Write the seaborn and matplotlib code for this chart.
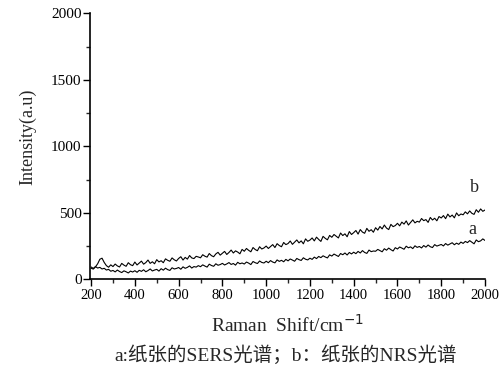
import numpy as np
import pandas as pd
import matplotlib
matplotlib.use('Agg')
import matplotlib.pyplot as plt
from matplotlib.ticker import MultipleLocator
import seaborn as sns

# Raman shift, 200..2000 step 10
shift = np.arange(200, 2001, 10)

# a: SERS spectrum of paper (lower curve)
sers = [
    94, 83, 97, 86, 91, 79, 84, 71, 76, 62,
    68, 57, 71, 60, 52, 65, 58, 49, 63, 56,
    66, 54, 69, 61, 73, 58, 67, 79, 64, 71,
    76, 63, 81, 70, 85, 74, 68, 88, 79, 83,
    90, 77, 95, 84, 91, 102, 86, 97, 93, 104,
    96, 110, 101, 93, 115, 105, 99, 118, 107, 112,
    121, 109, 117, 127, 113, 120, 108, 129, 118, 124,
    116, 131, 123, 112, 135, 126, 120, 139, 128, 124,
    137, 126, 142, 131, 125, 147, 136, 144, 133, 151,
    140, 154, 146, 137, 158, 149, 143, 163, 152, 147,
    160, 151, 168, 157, 173, 164, 178, 169, 162, 185,
    176, 191, 182, 173, 195, 186, 199, 184, 203, 192,
    205, 194, 211, 199, 217, 203, 196, 221, 209, 214,
    212, 226, 217, 208, 231, 220, 236, 224, 214, 239,
    229, 244, 236, 227, 250, 238, 245, 232, 253, 241,
    248, 237, 255, 243, 259, 246, 240, 262, 251, 257,
    263, 252, 270, 258, 267, 276, 261, 273, 264, 281,
    271, 286, 277, 292, 280, 268, 297, 284, 290, 305,
    293,
]

# b: NRS spectrum of paper (upper curve)
nrs = [
    85, 78, 95, 118, 152, 160, 128, 104, 92, 110,
    97, 116, 102, 94, 121, 108, 99, 126, 111, 104,
    131, 109, 124, 138, 115, 127, 146, 121, 133, 118,
    149, 132, 141, 126, 155, 144, 137, 162, 148, 139,
    158, 171, 146, 166, 153, 180, 162, 157, 174, 169,
    163, 186, 175, 168, 195, 179, 171, 192, 204, 183,
    197, 211, 188, 203, 221, 199, 215, 206, 193, 226,
    212, 233, 219, 208, 240, 225, 216, 246, 229, 237,
    251, 233, 247, 262, 240, 269, 255, 246, 278, 262,
    270, 289, 264, 281, 297, 275, 290, 268, 305, 287,
    296, 312, 290, 318, 301, 286, 324, 309, 298, 331,
    317, 338, 325, 312, 349, 330, 343, 321, 360, 338,
    352, 368, 341, 375, 356, 347, 384, 362, 374, 355,
    389, 371, 398, 380, 409, 386, 375, 414, 397, 405,
    422, 403, 431, 416, 440, 409, 428, 448, 425, 437,
    431, 458, 442, 450, 429, 466, 447, 460, 441, 473,
    462, 480, 457, 491, 470, 484, 463, 500, 479, 492,
    486, 508, 493, 515, 497, 489, 524, 505, 530, 512,
    522,
]

df = pd.DataFrame({
    'shift': np.concatenate([shift, shift]),
    'intensity': sers + nrs,
    'curve': ['a'] * len(shift) + ['b'] * len(shift),
})

sns.set_style('ticks')
plt.rcParams['font.family'] = ['Liberation Serif', 'Noto Sans CJK SC', 'DejaVu Sans']
plt.rcParams['font.size'] = 11

fig = plt.figure(figsize=(5, 3.75), dpi=100)
ax = fig.add_axes([0.18, 0.2547, 0.79, 0.71])

sns.lineplot(data=df, x='shift', y='intensity', hue='curve', units='curve',
             estimator=None, palette=['black', 'black'], linewidth=0.8,
             legend=False, ax=ax)

ax.set_xlim(195, 2000)
ax.set_ylim(0, 2000)
ax.xaxis.set_major_locator(MultipleLocator(200))
ax.xaxis.set_minor_locator(MultipleLocator(100))
ax.yaxis.set_major_locator(MultipleLocator(500))
ax.yaxis.set_minor_locator(MultipleLocator(250))
ax.tick_params(which='major', length=5, width=1, direction='out', pad=2, colors='black')
ax.tick_params(which='minor', length=3, width=1, direction='out')
ax.tick_params(axis='x', labelsize=10.5)
ax.tick_params(axis='y', labelsize=11, pad=1)
sns.despine(ax=ax)
for s in ['left', 'bottom']:
    ax.spines[s].set_linewidth(1.2)
    ax.spines[s].set_color('black')

ax.set_xlabel('Raman  Shift/cm$^{-1}$', fontsize=14)
ax.set_ylabel('Intensity(a.u)', fontsize=13)
ax.xaxis.set_label_coords(0.5, -0.128)
ax.yaxis.set_label_coords(-0.135, 0.537)

# curve labels
ax.text(1950, 693, 'b', fontsize=13, ha='center', va='center')
ax.text(1941, 378, 'a', fontsize=13, ha='center', va='center')

fig.text(0.572, 0.053, 'a:纸张的SERS光谱；b：纸张的NRS光谱', fontsize=14,
         ha='center', va='center')

fig.savefig('out.png', dpi=100)
